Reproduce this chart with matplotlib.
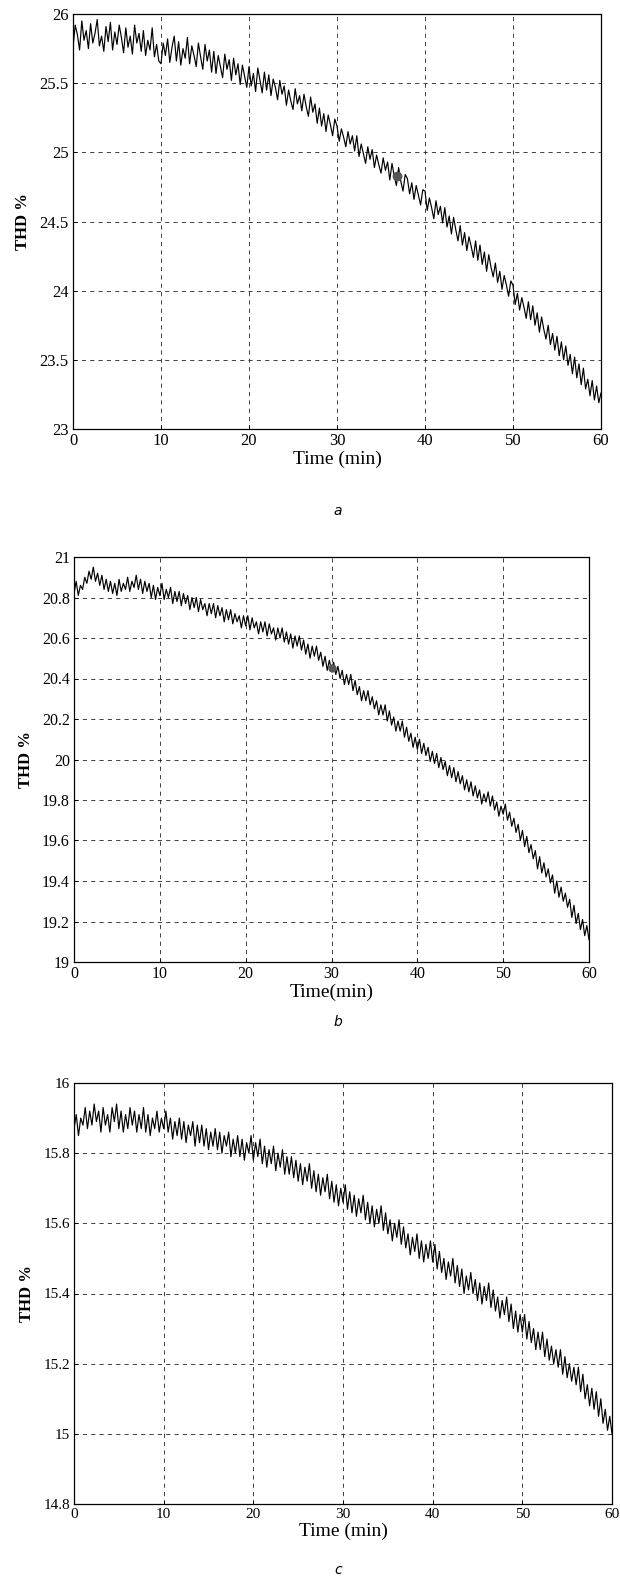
import numpy as np
import matplotlib
matplotlib.use("Agg")
import matplotlib.pyplot as plt

plt.rcParams['font.family'] = ['Liberation Serif', 'DejaVu Serif']

# Sampling instants (min), one reading every 15 s
time_min = np.linspace(0, 60, 241)

# Panel a: THD % (23 .. 26)
thd_a = [
    25.76, 25.92, 25.85, 25.74, 25.95, 25.81, 25.88, 25.75,
    25.93, 25.79, 25.86, 25.96, 25.77, 25.84, 25.73, 25.91,
    25.80, 25.94, 25.74, 25.87, 25.78, 25.92, 25.83, 25.72,
    25.90, 25.76, 25.84, 25.71, 25.92, 25.79, 25.86, 25.73,
    25.88, 25.70, 25.81, 25.74, 25.90, 25.69, 25.78, 25.66,
    25.64, 25.79, 25.70, 25.82, 25.65, 25.76, 25.84, 25.66,
    25.80, 25.63, 25.75, 25.68, 25.83, 25.64, 25.77, 25.70,
    25.62, 25.79, 25.69, 25.60, 25.78, 25.66, 25.74, 25.58,
    25.73, 25.57, 25.70, 25.62, 25.54, 25.71, 25.60, 25.67,
    25.52, 25.68, 25.56, 25.64, 25.49, 25.63, 25.55, 25.47,
    25.62, 25.48, 25.57, 25.44, 25.61, 25.52, 25.43, 25.58,
    25.45, 25.56, 25.41, 25.53, 25.47, 25.38, 25.52, 25.42,
    25.48, 25.34, 25.45, 25.37, 25.31, 25.46, 25.35, 25.41,
    25.30, 25.42, 25.33, 25.26, 25.40, 25.29, 25.35, 25.21,
    25.32, 25.19, 25.28, 25.15, 25.27, 25.20, 25.12, 25.24,
    25.19, 25.08, 25.17, 25.11, 25.04, 25.15, 25.06, 25.12,
    25.01, 25.12, 24.97, 25.06, 24.99, 24.92, 25.04, 24.95,
    25.02, 24.89, 24.98, 24.91, 24.85, 24.96, 24.87, 24.93,
    24.80, 24.92, 24.83, 24.76, 24.89, 24.79, 24.72, 24.84,
    24.81, 24.70, 24.78, 24.66, 24.76, 24.69, 24.62, 24.73,
    24.72, 24.58, 24.67, 24.60, 24.52, 24.65, 24.55, 24.61,
    24.49, 24.60, 24.46, 24.54, 24.41, 24.53, 24.44, 24.36,
    24.47, 24.33, 24.42, 24.29, 24.39, 24.32, 24.24, 24.36,
    24.22, 24.33, 24.19, 24.28, 24.14, 24.26, 24.17, 24.10,
    24.20, 24.06, 24.14, 24.01, 24.11, 24.04, 23.96, 24.07,
    24.04, 23.90, 23.98, 23.86, 23.95, 23.88, 23.80, 23.92,
    23.79, 23.89, 23.75, 23.84, 23.70, 23.81, 23.72, 23.65,
    23.75, 23.61, 23.69, 23.57, 23.67, 23.53, 23.63, 23.50,
    23.60, 23.46, 23.54, 23.40, 23.52, 23.37, 23.47, 23.32,
    23.44, 23.29, 23.36, 23.24, 23.35, 23.21, 23.31, 23.19,
    23.26,
]

# Panel b: THD % (19 .. 21)
thd_b = [
    20.82, 20.88, 20.81, 20.86, 20.84, 20.90, 20.87, 20.93,
    20.89, 20.95, 20.88, 20.92, 20.86, 20.91, 20.84, 20.89,
    20.83, 20.88, 20.82, 20.87, 20.81, 20.89, 20.83, 20.87,
    20.84, 20.90, 20.83, 20.88, 20.85, 20.91, 20.84, 20.89,
    20.82, 20.88, 20.83, 20.87, 20.80, 20.86, 20.79, 20.85,
    20.81, 20.87, 20.79, 20.84, 20.80, 20.85, 20.77, 20.83,
    20.78, 20.83, 20.76, 20.82, 20.77, 20.81, 20.74, 20.80,
    20.75, 20.80, 20.73, 20.79, 20.74, 20.77, 20.71, 20.77,
    20.72, 20.77, 20.70, 20.76, 20.71, 20.75, 20.68, 20.74,
    20.69, 20.74, 20.67, 20.72, 20.68, 20.71, 20.65, 20.71,
    20.66, 20.71, 20.64, 20.70, 20.65, 20.68, 20.62, 20.68,
    20.63, 20.68, 20.61, 20.67, 20.62, 20.65, 20.59, 20.65,
    20.60, 20.65, 20.58, 20.63, 20.57, 20.62, 20.55, 20.61,
    20.56, 20.61, 20.54, 20.59, 20.52, 20.57, 20.50, 20.56,
    20.51, 20.56, 20.49, 20.53, 20.46, 20.51, 20.44, 20.49,
    20.44, 20.48, 20.42, 20.46, 20.40, 20.44, 20.37, 20.42,
    20.37, 20.42, 20.34, 20.39, 20.32, 20.36, 20.29, 20.34,
    20.29, 20.34, 20.27, 20.31, 20.25, 20.29, 20.22, 20.27,
    20.22, 20.27, 20.19, 20.24, 20.17, 20.21, 20.14, 20.19,
    20.14, 20.19, 20.11, 20.16, 20.09, 20.13, 20.06, 20.11,
    20.05, 20.10, 20.03, 20.08, 20.02, 20.06, 19.99, 20.04,
    19.98, 20.03, 19.96, 20.01, 19.95, 19.99, 19.92, 19.97,
    19.91, 19.96, 19.89, 19.94, 19.88, 19.92, 19.85, 19.90,
    19.84, 19.89, 19.82, 19.87, 19.81, 19.85, 19.78, 19.83,
    19.79, 19.84, 19.77, 19.82, 19.75, 19.79, 19.72, 19.77,
    19.73, 19.78, 19.70, 19.74, 19.67, 19.71, 19.64, 19.68,
    19.60, 19.65, 19.57, 19.62, 19.54, 19.58, 19.51, 19.55,
    19.46, 19.52, 19.44, 19.49, 19.42, 19.46, 19.39, 19.43,
    19.34, 19.40, 19.32, 19.37, 19.30, 19.34, 19.27, 19.31,
    19.22, 19.28, 19.19, 19.24, 19.16, 19.21, 19.13, 19.18,
    19.11,
]

# Panel c: THD % (14.8 .. 16)
thd_c = [
    15.87, 15.91, 15.85, 15.90, 15.88, 15.93, 15.87, 15.92,
    15.88, 15.94, 15.89, 15.92, 15.86, 15.93, 15.88, 15.91,
    15.86, 15.93, 15.89, 15.94, 15.87, 15.92, 15.86, 15.91,
    15.87, 15.93, 15.88, 15.92, 15.86, 15.91, 15.87, 15.93,
    15.86, 15.91, 15.85, 15.90, 15.87, 15.92, 15.86, 15.90,
    15.87, 15.92, 15.86, 15.90, 15.84, 15.89, 15.85, 15.90,
    15.84, 15.89, 15.83, 15.88, 15.85, 15.89, 15.82, 15.88,
    15.83, 15.88, 15.82, 15.87, 15.81, 15.86, 15.82, 15.87,
    15.81, 15.86, 15.80, 15.85, 15.82, 15.86, 15.79, 15.84,
    15.80, 15.85, 15.79, 15.84, 15.78, 15.83, 15.80, 15.85,
    15.78, 15.83, 15.79, 15.84, 15.77, 15.82, 15.76, 15.81,
    15.77, 15.82, 15.75, 15.80, 15.76, 15.81, 15.74, 15.79,
    15.74, 15.79, 15.73, 15.78, 15.72, 15.77, 15.71, 15.76,
    15.72, 15.77, 15.70, 15.75, 15.69, 15.74, 15.68, 15.73,
    15.69, 15.74, 15.67, 15.72, 15.66, 15.71, 15.65, 15.70,
    15.66, 15.71, 15.64, 15.69, 15.63, 15.68, 15.62, 15.67,
    15.63, 15.68, 15.61, 15.66, 15.60, 15.65, 15.59, 15.64,
    15.60, 15.65, 15.58, 15.63, 15.57, 15.61, 15.55, 15.60,
    15.56, 15.61, 15.54, 15.59, 15.53, 15.57, 15.51, 15.56,
    15.52, 15.57, 15.50, 15.55, 15.49, 15.54, 15.50, 15.55,
    15.49, 15.54, 15.47, 15.52, 15.46, 15.50, 15.44, 15.49,
    15.45, 15.50, 15.43, 15.48, 15.42, 15.47, 15.40, 15.45,
    15.41, 15.46, 15.40, 15.44, 15.38, 15.43, 15.37, 15.42,
    15.38, 15.43, 15.36, 15.41, 15.35, 15.39, 15.33, 15.38,
    15.34, 15.39, 15.32, 15.37, 15.30, 15.35, 15.29, 15.34,
    15.29, 15.34, 15.27, 15.32, 15.26, 15.30, 15.24, 15.29,
    15.24, 15.29, 15.22, 15.27, 15.21, 15.25, 15.20, 15.24,
    15.19, 15.24, 15.17, 15.22, 15.16, 15.20, 15.15, 15.19,
    15.14, 15.19, 15.12, 15.17, 15.10, 15.14, 15.08, 15.13,
    15.07, 15.12, 15.05, 15.10, 15.03, 15.07, 15.01, 15.05,
    15.00,
]

# Highlighted operating points
mark_a = (36.8, 24.83)
mark_b = (30.0, 20.45)

x_ticks = [0, 10, 20, 30, 40, 50, 60]
yticks_a = [23, 23.5, 24, 24.5, 25, 25.5, 26]
ylabels_a = ["23", "23.5", "24", "24.5", "25", "25.5", "26"]
yticks_b = [19, 19.2, 19.4, 19.6, 19.8, 20, 20.2, 20.4, 20.6, 20.8, 21]
ylabels_b = ["19", "19.2", "19.4", "19.6", "19.8", "20", "20.2", "20.4", "20.6", "20.8", "21"]
yticks_c = [14.8, 15, 15.2, 15.4, 15.6, 15.8, 16]
ylabels_c = ["14.8", "15", "15.2", "15.4", "15.6", "15.8", "16"]

W, H = 620, 1579
fig = plt.figure(figsize=(W / 100, H / 100), dpi=100)


def px_axes(left, top, right, bottom):
    return fig.add_axes([left / W, 1 - bottom / H, (right - left) / W, (bottom - top) / H])


def style(ax, yt, yl, ylim, xlabel, caption, cap_y, tick_size):
    ax.set_xlim(0, 60)
    ax.set_ylim(*ylim)
    ax.set_xticks(x_ticks)
    ax.set_xticklabels([str(v) for v in x_ticks])
    ax.set_yticks(yt)
    ax.set_yticklabels(yl)
    ax.tick_params(direction='in', length=3, width=0.6, labelsize=tick_size, pad=3)
    ax.grid(True, color='#222222', linestyle=(0, (5, 5)), linewidth=0.6)
    for s in ax.spines.values():
        s.set_linewidth(0.9)
    ax.set_xlabel(xlabel, fontsize=14, labelpad=1)
    ax.set_ylabel("THD %", fontsize=12, fontweight='bold', labelpad=6)
    fig.text(0.545, 1 - cap_y / H, caption, fontsize=10, style='italic',
             family=['DejaVu Sans'], ha='center', va='center')


line_kw = dict(color='black', linewidth=0.85)

ax_a = px_axes(73, 14, 601, 429)
ax_a.plot(time_min, thd_a, **line_kw)
ax_a.plot(*mark_a, 'o', color='#555555', markersize=6)
style(ax_a, yticks_a, ylabels_a, (23, 26), "Time (min)", "a", 511, 12)

ax_b = px_axes(74, 557, 589, 962)
ax_b.plot(time_min, thd_b, **line_kw)
ax_b.plot(*mark_b, 'o', color='#555555', markersize=5)
style(ax_b, yticks_b, ylabels_b, (19, 21), "Time(min)", "b", 1022, 11.5)

ax_c = px_axes(74, 1083, 612, 1504)
ax_c.plot(time_min, thd_c, **line_kw)
style(ax_c, yticks_c, ylabels_c, (14.8, 16), "Time (min)", "c", 1570, 11)

fig.savefig("out.png", dpi=100)
